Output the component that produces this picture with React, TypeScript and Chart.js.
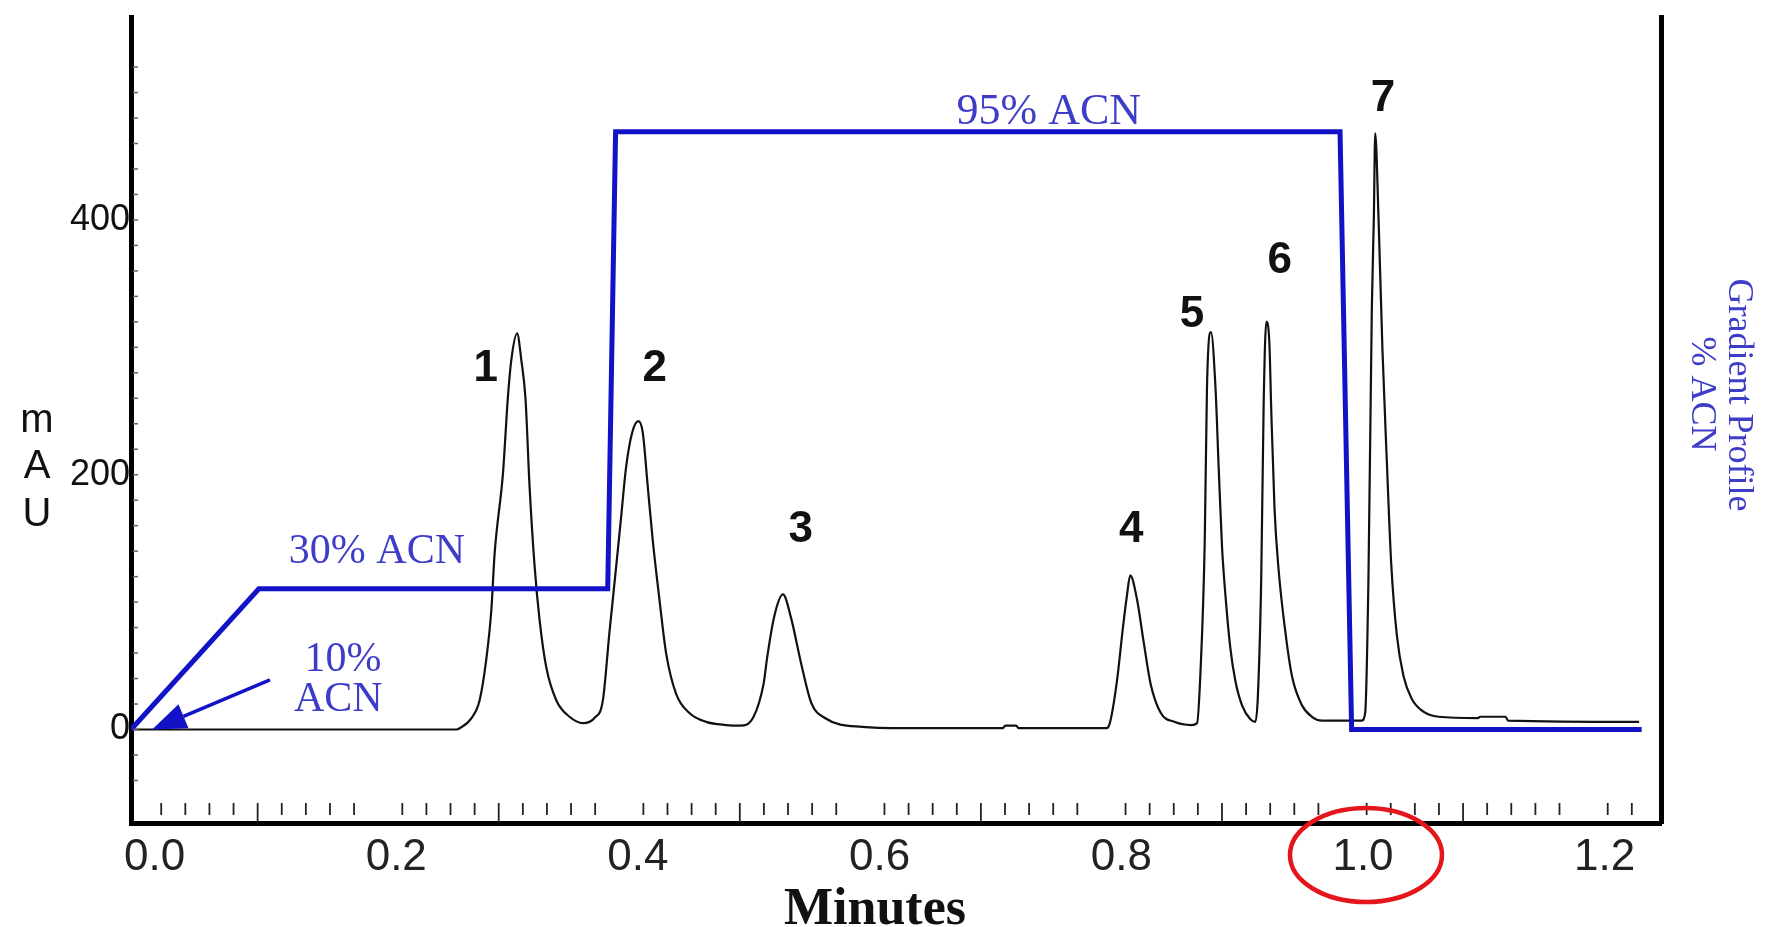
import React, { useEffect, useRef } from 'react';
import { Chart, registerables } from 'chart.js';

Chart.register(...registerables);

// ---------- data (minutes, mAU) ----------
const TIME = [
  -0.0195, 0.25, 0.2525, 0.2621, 0.269, 0.2745, 0.2787, 0.2814, 0.2883, 0.2924, 0.2952, 0.3,
  0.3035, 0.307, 0.3103, 0.3145, 0.3186, 0.3241, 0.3324, 0.3434, 0.3544, 0.364, 0.371,
  0.3764, 0.382, 0.3861, 0.3902, 0.3952, 0.4004, 0.404, 0.4081, 0.4122, 0.4178, 0.4233,
  0.4316, 0.4426, 0.4564, 0.4729, 0.4845, 0.4957, 0.504, 0.507, 0.5126, 0.52, 0.5266,
  0.535, 0.5434, 0.5547, 0.5855, 0.619, 0.702, 0.704, 0.713, 0.715, 0.7877, 0.7905,
  0.7961, 0.8017, 0.8045, 0.8074, 0.813, 0.8186, 0.8242, 0.8327, 0.8438, 0.8579, 0.8627,
  0.8655, 0.869, 0.8709, 0.8742, 0.8779, 0.8806, 0.8833, 0.8861, 0.8902, 0.8944, 0.8999,
  0.9068, 0.9109, 0.913, 0.9158, 0.9178, 0.92, 0.9225, 0.9241, 0.9268, 0.9302, 0.9357,
  0.9412, 0.9495, 0.9577, 0.966, 0.999, 1.0018, 1.0045, 1.0073, 1.009, 1.0101, 1.0128,
  1.0161, 1.0197, 1.0233, 1.028, 1.0335, 1.0404, 1.05, 1.0624, 1.095, 1.097, 1.118, 1.12,
  1.2285,
];
const MAU = [
  0, 0, 1, 8.8, 23, 55, 94, 138, 201, 261, 290, 311,
  290, 259, 191, 128, 86, 49, 23, 10, 5, 9, 23,
  76, 128, 167, 206, 233, 242, 233, 191, 149, 102, 60,
  28, 13, 6, 3.5, 3, 10, 36, 57, 88, 106, 88,
  52, 21, 9, 2, 1, 1, 3, 3, 1, 1, 5,
  36, 83, 104, 121, 102, 68, 36, 13, 6, 3.5, 5,
  45, 146, 269, 312, 269, 205, 144, 106, 64, 38, 19,
  8, 6, 26, 120, 256, 320, 304, 250, 173, 125, 77,
  42, 19, 10, 7, 7, 13, 118, 330, 403, 468, 403,
  298, 211, 131, 74, 42, 24, 14, 10, 9, 10, 10, 7,
  6,
];

// gradient profile (minutes, % ACN)
const GRAD_TIME = [-0.0195, 0.0863, 0.375, 0.3815, 0.981, 0.9906, 1.2306];
const GRAD_PCT = [10, 30, 30, 95, 95, 10, 10];

// axes
const X_MIN = -0.0195;
const X_MAX = 1.2466;
const Y_MIN = -73.4;
const Y_MAX = 559.3;
const Y1_MIN = -3.3;
const Y1_MAX = 111.32;
const X_TICK_VALUES = [0, 0.2, 0.4, 0.6, 0.8, 1.0, 1.2];
const X_TICK_LABELS = ['0.0', '0.2', '0.4', '0.6', '0.8', '1.0', '1.2'];
const Y_TICK_VALUES = [0, 200, 400];
const Y_TICK_LABELS = ['0', '200', '400'];
const X_MINOR_START = 0.0055;
const X_MINOR_STEP = 0.01995;
const X_MINOR_COUNT = 62;
const Y_MINOR_FROM = -40;
const Y_MINOR_TO = 520;
const Y_MINOR_STEP = 20;

// peak labels
const PEAK_LABELS = ['1', '2', '3', '4', '5', '6', '7'];
const PEAK_LABEL_X = [0.274, 0.4138, 0.5347, 0.8083, 0.8584, 0.931, 1.0166];
const PEAK_LABEL_Y = [282.8, 282.8, 156.4, 156.4, 325.2, 367.6, 494.9];

// gradient annotations (text, minutes, mAU)
const GRAD_NOTES = ['95% ACN', '30% ACN', '10%', 'ACN'];
const GRAD_NOTE_X = [0.740, 0.184, 0.156, 0.152];
const GRAD_NOTE_Y = [484, 139, 54.5, 23.2];
const GRAD_NOTE_SIZE = [44, 42, 42, 42];

const ARROW_FROM = { x: 0.0955, y: 38.9 };
const ARROW_TO = { x: -0.002, y: 0 };

const LINE_BLUE = '#1212c6';
const TEXT_BLUE = '#3d3dc8';
const SANS = '"Liberation Sans", Arial, sans-serif';
const SERIF = '"Liberation Serif", "Times New Roman", serif';

const decorPlugin = {
  id: 'decor',
  afterDraw(chart: any) {
    const { ctx, chartArea, scales } = chart;
    const x = scales.x;
    const y = scales.y;
    ctx.save();

    // x minor ticks (inside, above axis)
    ctx.strokeStyle = '#222';
    ctx.lineWidth = 1.8;
    for (let k = 0; k < X_MINOR_COUNT; k++) {
      if (k % 10 === 9) continue;
      const px = x.getPixelForValue(X_MINOR_START + k * X_MINOR_STEP);
      const long = k % 10 === 4;
      ctx.beginPath();
      ctx.moveTo(px, chartArea.bottom - 20);
      ctx.lineTo(px, chartArea.bottom - (long ? 1 : 8));
      ctx.stroke();
    }

    // y minor ticks (inside, right of axis)
    ctx.strokeStyle = '#666';
    ctx.lineWidth = 1.5;
    for (let v = Y_MINOR_FROM; v <= Y_MINOR_TO; v += Y_MINOR_STEP) {
      const py = y.getPixelForValue(v);
      ctx.beginPath();
      ctx.moveTo(chartArea.left + 2, py);
      ctx.lineTo(chartArea.left + 7, py);
      ctx.stroke();
    }

    // gradient annotations
    ctx.fillStyle = TEXT_BLUE;
    ctx.textAlign = 'center';
    ctx.textBaseline = 'middle';
    GRAD_NOTES.forEach((t, i) => {
      ctx.font = `${GRAD_NOTE_SIZE[i]}px ${SERIF}`;
      ctx.fillText(t, x.getPixelForValue(GRAD_NOTE_X[i]), y.getPixelForValue(GRAD_NOTE_Y[i]));
    });

    // arrow
    const ax0 = x.getPixelForValue(ARROW_FROM.x);
    const ay0 = y.getPixelForValue(ARROW_FROM.y);
    const ax1 = x.getPixelForValue(ARROW_TO.x);
    const ay1 = y.getPixelForValue(ARROW_TO.y);
    const ang = Math.atan2(ay1 - ay0, ax1 - ax0);
    const headLen = 34;
    const headW = 13;
    const bx = ax1 - headLen * Math.cos(ang);
    const by = ay1 - headLen * Math.sin(ang);
    ctx.strokeStyle = LINE_BLUE;
    ctx.fillStyle = LINE_BLUE;
    ctx.lineWidth = 3.5;
    ctx.beginPath();
    ctx.moveTo(ax0, ay0);
    ctx.lineTo(bx, by);
    ctx.stroke();
    ctx.beginPath();
    ctx.moveTo(ax1, ay1);
    ctx.lineTo(bx + headW * Math.sin(ang), by - headW * Math.cos(ang));
    ctx.lineTo(bx - headW * Math.sin(ang), by + headW * Math.cos(ang));
    ctx.closePath();
    ctx.fill();

    // peak labels
    ctx.fillStyle = '#111';
    ctx.font = `bold 44px ${SANS}`;
    PEAK_LABELS.forEach((t, i) => {
      ctx.fillText(t, x.getPixelForValue(PEAK_LABEL_X[i]), y.getPixelForValue(PEAK_LABEL_Y[i]));
    });

    // left axis title "m A U"
    ctx.fillStyle = '#111';
    ctx.font = `40px ${SANS}`;
    ctx.textBaseline = 'alphabetic';
    const tx = chartArea.left - 94;
    ctx.fillText('m', tx, 432);
    ctx.fillText('A', tx, 478);
    ctx.fillText('U', tx, 526);

    // bottom axis title
    ctx.font = `bold 52px ${SERIF}`;
    ctx.fillText('Minutes', 875, 924);

    // right axis title
    ctx.fillStyle = TEXT_BLUE;
    ctx.font = `36px ${SERIF}`;
    ctx.textBaseline = 'middle';
    ctx.save();
    ctx.translate(1738, 395);
    ctx.rotate(Math.PI / 2);
    ctx.fillText('Gradient Profile', 0, 0);
    ctx.restore();
    ctx.save();
    ctx.translate(1701, 394);
    ctx.rotate(Math.PI / 2);
    ctx.fillText('% ACN', 0, 0);
    ctx.restore();

    // red circle around 1.0
    ctx.strokeStyle = '#e5161b';
    ctx.lineWidth = 4.5;
    ctx.beginPath();
    ctx.ellipse(x.getPixelForValue(1.0) + 3, chartArea.bottom + 32, 76, 47, 0, 0, Math.PI * 2);
    ctx.stroke();

    ctx.restore();
  },
};

export default function App() {
  const canvasRef = useRef<HTMLCanvasElement | null>(null);

  useEffect(() => {
    if (!canvasRef.current) return;
    const chart = new Chart(canvasRef.current, {
      type: 'line',
      data: {
        datasets: [
          {
            label: 'Gradient % ACN',
            data: GRAD_TIME.map((t, i) => ({ x: t, y: GRAD_PCT[i] })),
            yAxisID: 'y1',
            borderColor: LINE_BLUE,
            borderWidth: 5,
            pointRadius: 0,
            tension: 0,
            fill: false,
          },
          {
            label: 'mAU',
            data: TIME.map((t, i) => ({ x: t, y: MAU[i] })),
            yAxisID: 'y',
            borderColor: '#111',
            borderWidth: 2.2,
            pointRadius: 0,
            cubicInterpolationMode: 'monotone',
            fill: false,
          },
        ],
      },
      options: {
        responsive: false,
        animation: false,
        devicePixelRatio: 1,
        layout: { padding: { top: 17, left: 0, right: 0, bottom: 0 } },
        plugins: {
          legend: { display: false },
          tooltip: { enabled: false },
          title: { display: false },
        },
        elements: { point: { radius: 0 } },
        scales: {
          x: {
            type: 'linear',
            position: 'bottom',
            min: X_MIN,
            max: X_MAX,
            grid: { display: false, drawTicks: false },
            border: { display: true, color: '#000', width: 5 },
            afterBuildTicks: (s: any) => {
              s.ticks = X_TICK_VALUES.map((v) => ({ value: v }));
            },
            ticks: {
              autoSkip: false,
              maxRotation: 0,
              padding: 8,
              color: '#222',
              font: { family: SANS, size: 44 },
              callback: (_v: any, i: number) => X_TICK_LABELS[i],
            },
            afterFit: (s: any) => {
              s.height = 104;
              s.paddingLeft = 0;
              s.paddingRight = 0;
            },
          },
          y: {
            type: 'linear',
            position: 'left',
            min: Y_MIN,
            max: Y_MAX,
            grid: { display: false, drawTicks: false },
            border: { display: true, color: '#000', width: 5 },
            afterBuildTicks: (s: any) => {
              s.ticks = Y_TICK_VALUES.map((v) => ({ value: v }));
            },
            ticks: {
              autoSkip: false,
              padding: 1,
              color: '#111',
              font: { family: SANS, size: 36 },
              callback: (_v: any, i: number) => Y_TICK_LABELS[i],
            },
            afterFit: (s: any) => {
              s.width = 131;
              s.paddingTop = 0;
              s.paddingBottom = 0;
            },
          },
          y1: {
            type: 'linear',
            position: 'right',
            min: Y1_MIN,
            max: Y1_MAX,
            grid: { display: false, drawTicks: false },
            border: { display: true, color: '#000', width: 5 },
            ticks: { display: false },
            afterFit: (s: any) => {
              s.width = 104;
              s.paddingTop = 0;
              s.paddingBottom = 0;
            },
          },
        },
      },
      plugins: [decorPlugin],
    } as any);
    return () => chart.destroy();
  }, []);

  return (
    <div style={{ position: 'absolute', left: 0, top: 0, width: 1765, height: 927, background: '#fff' }}>
      <canvas ref={canvasRef} width={1765} height={927} style={{ display: 'block' }} />
    </div>
  );
}
